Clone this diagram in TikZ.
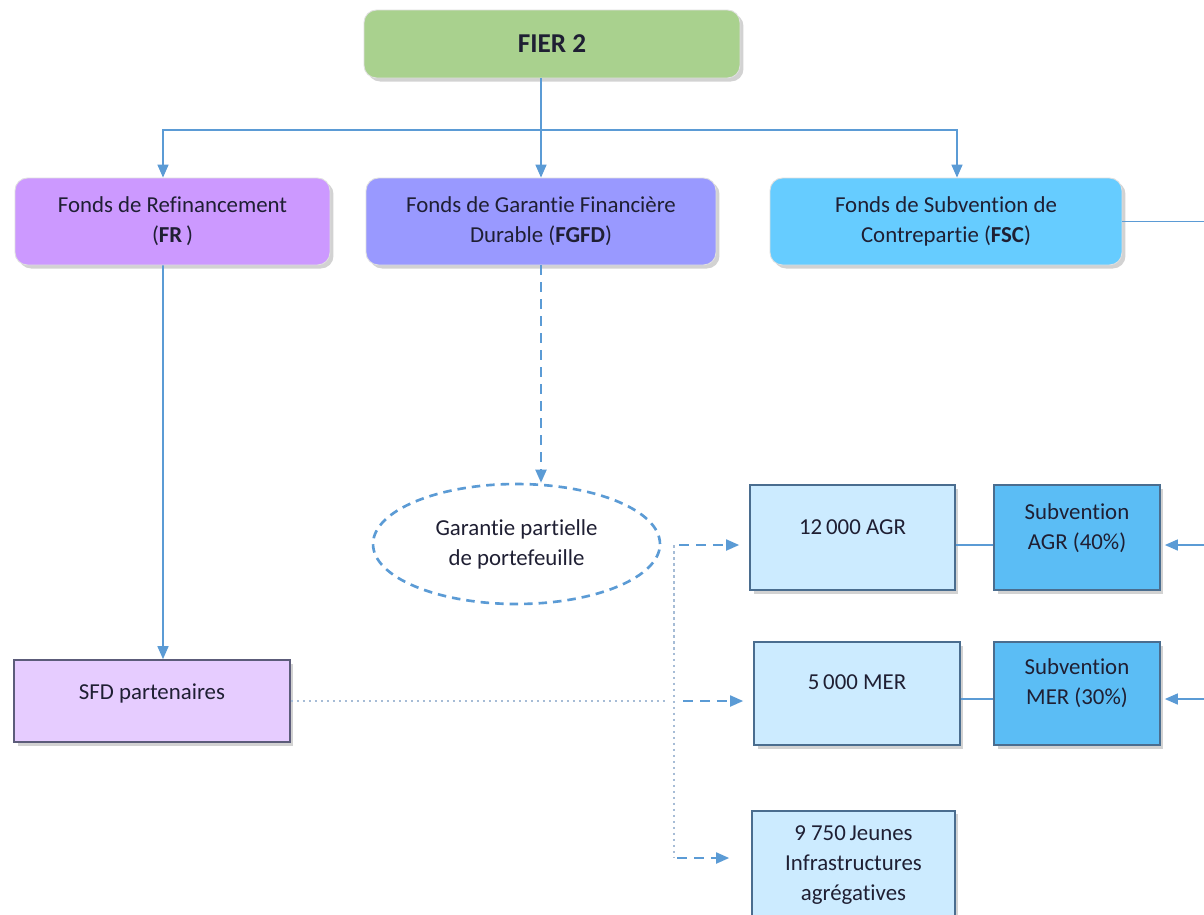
\documentclass[tikz,border=0pt]{standalone}
\usepackage{fontspec}
\setmainfont{Carlito}[Ligatures=NoCommon]
\usetikzlibrary{arrows.meta, positioning, shapes.geometric, shadows}

\definecolor{fiergreen}{HTML}{A9D18E}
\definecolor{frviolet}{HTML}{CC99FF}
\definecolor{fgfdblue}{HTML}{9999FF}
\definecolor{fscblue}{HTML}{66CCFF}
\definecolor{sfdlilac}{HTML}{E6CCFF}
\definecolor{paleblue}{HTML}{CCEBFF}
\definecolor{subblue}{HTML}{5BBDF5}
\definecolor{linkblue}{HTML}{5B9BD5}
\definecolor{dotblue}{HTML}{A6BCD6}
\definecolor{edgeblue}{HTML}{4A6D8F}
\definecolor{edgeslate}{HTML}{5C5C7A}
\definecolor{inktext}{HTML}{1F1F33}

\begin{document}
\begin{tikzpicture}[x=0.02cm, y=-0.02cm,
  every node/.style={text=inktext, font=\fontsize{13}{17}\selectfont},
  lift/.style={drop shadow={shadow xshift=0.07cm, shadow yshift=-0.07cm, opacity=0.35}},
  fund/.style={lift, draw=white!75!gray, line width=0.5pt, rounded corners=0.25cm, minimum height=1.74cm, align=center},
  cell/.style={lift, draw=edgeblue, line width=1pt, minimum height=2.1cm},
  lbl/.style={align=center},
  link/.style={draw=linkblue, line width=0.9pt},
  flow/.style={link, -{Triangle[length=0.26cm, width=0.22cm]}},
  dashflow/.style={flow, line width=1.1pt, dash pattern=on 0.2cm off 0.14cm},
  dotline/.style={draw=dotblue, line width=0.9pt, dash pattern=on 0.05cm off 0.07cm},
]
\path[use as bounding box, fill=white] (0,0) rectangle (1204,914);

\node[fund, fill=fiergreen, minimum width=7.52cm, minimum height=1.36cm, font=\fontsize{15.5}{18}\selectfont\bfseries] (fier) at (552,44) {FIER 2};
\node[fund, fill=frviolet, minimum width=6.3cm] (fr) at (172.5,221.5) {Fonds de Refinancement\\(\textbf{FR}\,)};
\node[fund, fill=fgfdblue, minimum width=7cm] (fgfd) at (541,221.5) {Fonds de Garantie Financière\\Durable (\textbf{FGFD})};
\node[fund, fill=fscblue, minimum width=7.04cm] (fsc) at (946,221.5) {Fonds de Subvention de\\Contrepartie (\textbf{FSC})};

\node[cell, fill=sfdlilac, draw=edgeslate, minimum width=5.52cm, minimum height=1.64cm, label={[yshift=0.16cm]center:SFD partenaires}] (sfd) at (152,701) {};
\node[ellipse, draw=linkblue, line width=1.5pt, dash pattern=on 0.17cm off 0.12cm, minimum width=5.74cm, minimum height=2.4cm, inner sep=0pt, align=center] (garantie) at (516.5,544) {Garantie partielle\\de portefeuille};

\node[cell, fill=paleblue, minimum width=4.1cm, label={[yshift=0.21cm]center:12\,000 AGR}] (agr) at (852.5,537.5) {};
\node[cell, fill=subblue, minimum width=3.32cm, label={[lbl, yshift=0.18cm]center:Subvention\\AGR (40\%)}] (subagr) at (1077,537.5) {};
\node[cell, fill=paleblue, minimum width=4.12cm, minimum height=2.06cm, label={[yshift=0.22cm]center:5\,000 MER}] (mer) at (857,693.5) {};
\node[cell, fill=subblue, minimum width=3.32cm, minimum height=2.06cm, label={[lbl, yshift=0.21cm]center:Subvention\\MER (30\%)}] (submer) at (1077,693.5) {};
\node[cell, fill=paleblue, minimum width=4.06cm, minimum height=0pt, inner ysep=0.3cm, anchor=north, align=center] (jeunes) at (853.5,810) {9 750\,Jeunes\\Infrastructures\\agrégatives};

\coordinate (bus) at (541,130);
\draw[link] (fier.south -| bus) -- (bus);
\draw[flow] (bus) -| ([xshift=-0.19cm]fr.north);
\draw[flow] (bus) -| ([xshift=0.22cm]fsc.north);
\draw[flow] (bus) -- (bus |- fgfd.north);
\draw[flow] ([xshift=-0.19cm]fr.south) -- ([xshift=0.22cm]sfd.north);
\draw[dashflow] (fgfd.south) -- (fgfd.south |- garantie.north);

\coordinate (split) at (674,545);
\coordinate (splitend) at (674,858);
\draw[dotline] (split) -- (splitend);
\draw[dashflow] ([xshift=0.1cm]split) -- ([xshift=-0.2cm]split -| agr.west);
\draw[dotline] (sfd.east) -- ([xshift=-0.18cm]sfd.east -| split);
\draw[dashflow] ([xshift=0.18cm]sfd.east -| split) -- ([xshift=-0.2cm]sfd.east -| mer.west);
\draw[dashflow] ([xshift=0.06cm]splitend) -- ([xshift=-0.44cm]splitend -| jeunes.west);

\coordinate (edgeF) at (1215,221);
\coordinate (edgeA) at (1215,545);
\coordinate (edgeM) at (1215,699);
\draw[link] (fsc.east) -- (fsc.east -| edgeF);
\draw[link] (agr.east |- edgeA) -- (subagr.west |- edgeA);
\draw[flow] (edgeA) -- ([xshift=0.08cm]subagr.east |- edgeA);
\draw[link] (mer.east |- edgeM) -- (submer.west |- edgeM);
\draw[flow] (edgeM) -- ([xshift=0.08cm]submer.east |- edgeM);
\end{tikzpicture}
\end{document}
